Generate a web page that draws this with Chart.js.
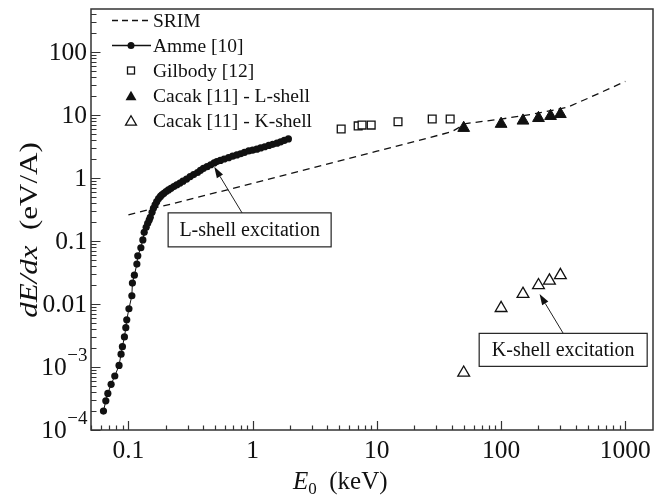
<!DOCTYPE html>
<html><head><meta charset="utf-8">
<script src="https://cdn.jsdelivr.net/npm/chart.js@4.4.1/dist/chart.umd.min.js"></script>
<style>html,body{margin:0;padding:0;background:#fff;}canvas{display:block;}</style>
</head><body>
<canvas id="c" width="665" height="499"></canvas>
<script>
// ---- data ----
const srimE = [0.1, 1, 10, 40, 52, 100, 180, 340, 520, 750, 1000];
const srimS = [0.26, 0.82, 2.66, 5.4, 7.3, 8.6, 10.3, 13.2, 19, 26.4, 34];

const ammeE = [0.063,0.0658,0.0683,0.0726,0.0777,0.0841,0.0873,0.0895,0.0929,0.0953,0.097,0.101,0.1066,0.1077,0.1117,0.117,0.119,0.126,0.1307,0.134,0.139,0.143,0.147,0.150,0.155,0.159,0.164,0.169,0.175,0.181,0.186,0.193,0.201,0.210,0.220,0.232,0.245,0.26,0.275,0.294,0.314,0.335,0.36,0.38,0.402,0.43,0.46,0.49,0.515,0.55,0.59,0.64,0.69,0.746,0.80,0.86,0.93,1.0,1.08,1.16,1.25,1.35,1.45,1.57,1.68,1.8,1.94];
const ammeS = [2.0e-4,2.9e-4,3.8e-4,5.3e-4,7.2e-4,1.06e-3,1.6e-3,2.1e-3,3.0e-3,4.2e-3,5.6e-3,8.4e-3,0.0135,0.0215,0.0286,0.043,0.058,0.078,0.104,0.137,0.165,0.191,0.215,0.238,0.285,0.33,0.375,0.42,0.47,0.51,0.54,0.57,0.61,0.645,0.685,0.73,0.775,0.83,0.89,0.96,1.05,1.13,1.22,1.32,1.42,1.51,1.62,1.73,1.82,1.90,2.0,2.1,2.22,2.32,2.42,2.55,2.68,2.77,2.86,3.0,3.13,3.28,3.42,3.56,3.75,3.95,4.16];

const gilbodyE = [5.16, 7.07, 7.6, 9.0, 14.8, 27.9, 38.9];
const gilbodyS = [6.0, 6.7, 6.9, 6.9, 7.8, 8.6, 8.6];

const cacakLE = [50, 100, 150, 200, 250, 300];
const cacakLS = [6.2, 7.2, 8.1, 8.9, 9.6, 10.3];

const cacakKE = [50, 100, 150, 200, 245, 300];
const cacakKS = [8.1e-4, 8.6e-3, 0.0144, 0.0198, 0.0234, 0.0286];

const xTickVals = [0.1, 1, 10, 100, 1000];
const xTickLabels = ['0.1', '1', '10', '100', '1000'];
const yTickVals = [1e-4, 1e-3, 0.01, 0.1, 1, 10, 100];
const yTickLabels = [['10','−4'], ['10','−3'], ['0.01'], ['0.1'], ['1'], ['10'], ['100']];

const legendLabels = ['SRIM', 'Amme [10]', 'Gilbody [12]', 'Cacak [11] - L-shell', 'Cacak [11] - K-shell'];
const annL = {text: 'L-shell excitation', box: [0.946, 0.15], from: [0.823, 0.278], to: [0.491, 1.5]};
const annK = {text: 'K-shell excitation', box: [316, 1.87e-3], from: [316, 3.43e-3], to: [204, 0.0144]};

const pts = (xs, ys) => xs.map((v, i) => ({x: v, y: ys[i]}));
const serif = '"Liberation Serif","Times New Roman",serif';

function tri(ctx, cx, cy, r) {
  ctx.beginPath();
  ctx.moveTo(cx, cy - r);
  ctx.lineTo(cx + r * 0.866, cy + r * 0.5);
  ctx.lineTo(cx - r * 0.866, cy + r * 0.5);
  ctx.closePath();
}
function arrow(ctx, x1, y1, x2, y2) {
  const ang = Math.atan2(y2 - y1, x2 - x1), L = 11, W = 3.6;
  const bx = x2 - L * Math.cos(ang), by = y2 - L * Math.sin(ang);
  ctx.beginPath(); ctx.moveTo(x1, y1); ctx.lineTo(bx, by); ctx.stroke();
  ctx.beginPath();
  ctx.moveTo(x2, y2);
  ctx.lineTo(bx + W * Math.sin(ang), by - W * Math.cos(ang));
  ctx.lineTo(bx - W * Math.sin(ang), by + W * Math.cos(ang));
  ctx.closePath(); ctx.fill();
}

const deco = {
  id: 'deco',
  afterDraw(chart) {
    const {ctx, chartArea: a, scales: {x, y}} = chart;
    ctx.save();
    ctx.strokeStyle = '#333'; ctx.fillStyle = '#111';
    // frame
    ctx.lineWidth = 1.5;
    ctx.strokeRect(a.left, a.top, a.right - a.left, a.bottom - a.top);
    // ticks
    ctx.lineWidth = 1.2;
    ctx.beginPath();
    for (let d = -2; d <= 3; d++) for (let m = 1; m <= 9; m++) {
      const v = m * Math.pow(10, d);
      if (v < x.min || v > x.max) continue;
      const px = Math.round(x.getPixelForValue(v)) + 0.5;
      ctx.moveTo(px, a.bottom); ctx.lineTo(px, a.bottom - (m === 1 ? 9 : 4.5));
    }
    for (let d = -4; d <= 2; d++) for (let m = 1; m <= 9; m++) {
      const v = m * Math.pow(10, d);
      if (v < y.min || v > y.max) continue;
      const py = Math.round(y.getPixelForValue(v)) + 0.5;
      ctx.moveTo(a.left, py); ctx.lineTo(a.left + (m === 1 ? 9.5 : 5.5), py);
    }
    ctx.stroke();
    // x tick labels
    ctx.font = '25.5px ' + serif; ctx.textAlign = 'center'; ctx.textBaseline = 'alphabetic';
    xTickVals.forEach((v, i) => ctx.fillText(xTickLabels[i], x.getPixelForValue(v), a.bottom + 28));
    // y tick labels
    const rx = a.left - 4;
    yTickVals.forEach((v, i) => {
      const py = y.getPixelForValue(v), lab = yTickLabels[i];
      ctx.textAlign = 'left'; ctx.textBaseline = 'middle';
      if (lab.length === 2) {
        ctx.font = '19px ' + serif; const ws = ctx.measureText(lab[1]).width;
        ctx.font = '25.5px ' + serif; const wb = ctx.measureText(lab[0]).width;
        const x0 = rx - ws - wb;
        ctx.fillText(lab[0], x0, py + 1);
        ctx.font = '19px ' + serif; ctx.fillText(lab[1], x0 + wb + 0.5, py - 11);
      } else {
        ctx.font = '25.5px ' + serif; ctx.textAlign = 'right';
        ctx.fillText(lab[0], rx, py + 1);
      }
    });
    // x title
    ctx.textAlign = 'left'; ctx.textBaseline = 'alphabetic';
    let tx = 293; const tb = 489;
    ctx.font = 'italic 25px ' + serif; ctx.fillText('E', tx, tb); tx += ctx.measureText('E').width;
    ctx.font = '17px ' + serif; ctx.fillText('0', tx, tb + 5); tx += ctx.measureText('0').width;
    ctx.font = '25px ' + serif; ctx.fillText('  (keV)', tx, tb);
    // y title
    ctx.save();
    ctx.translate(37, 230); ctx.rotate(-Math.PI / 2); ctx.scale(1, 0.78);
    const parts = [['italic 31px ', 'dE/dx'], ['31px ', '  (eV/A)']];
    let tw = 0; parts.forEach(p => { ctx.font = p[0] + serif; tw += ctx.measureText(p[1]).width; });
    let sx = -tw / 2;
    parts.forEach(p => { ctx.font = p[0] + serif; ctx.fillText(p[1], sx, 0); sx += ctx.measureText(p[1]).width; });
    ctx.restore();
    // legend
    const lx = a.left + 40, tx0 = a.left + 62, ly0 = a.top + 11.5, dy = 25;
    ctx.font = '19.5px ' + serif; ctx.textBaseline = 'middle'; ctx.textAlign = 'left';
    legendLabels.forEach((t, i) => ctx.fillText(t, tx0, ly0 + i * dy + 1));
    ctx.strokeStyle = '#111'; ctx.lineWidth = 1.3;
    ctx.setLineDash([6, 4]);
    ctx.beginPath(); ctx.moveTo(a.left + 21, ly0); ctx.lineTo(a.left + 60, ly0); ctx.stroke();
    ctx.setLineDash([]);
    ctx.beginPath(); ctx.moveTo(a.left + 21, ly0 + dy); ctx.lineTo(a.left + 60, ly0 + dy); ctx.stroke();
    ctx.beginPath(); ctx.arc(lx, ly0 + dy, 3.5, 0, Math.PI * 2); ctx.fill();
    ctx.strokeRect(lx - 3.5, ly0 + 2 * dy - 3.5, 7, 7);
    tri(ctx, lx, ly0 + 3 * dy + 1.5, 6.3); ctx.fill();
    tri(ctx, lx, ly0 + 4 * dy + 1.5, 6.3); ctx.stroke();
    // annotations
    [[annL, 163, 34], [annK, 168, 33]].forEach(([an, w, h]) => {
      const cx = x.getPixelForValue(an.box[0]), cy = y.getPixelForValue(an.box[1]);
      ctx.fillStyle = '#fff'; ctx.fillRect(cx - w / 2, cy - h / 2, w, h);
      ctx.strokeStyle = '#222'; ctx.lineWidth = 1.2; ctx.strokeRect(cx - w / 2, cy - h / 2, w, h);
      ctx.fillStyle = '#111'; ctx.font = '20px ' + serif; ctx.textAlign = 'center'; ctx.textBaseline = 'middle';
      ctx.fillText(an.text, cx, cy + 1);
      ctx.lineWidth = 1;
      arrow(ctx, x.getPixelForValue(an.from[0]), y.getPixelForValue(an.from[1]),
                 x.getPixelForValue(an.to[0]), y.getPixelForValue(an.to[1]));
    });
    ctx.restore();
  }
};

new Chart(document.getElementById('c').getContext('2d'), {
  type: 'scatter',
  data: {
    datasets: [
      {label: 'SRIM', data: pts(srimE, srimS), showLine: true, borderColor: '#111', borderWidth: 1.3,
       borderDash: [7, 5], pointRadius: 0, fill: false},
      {label: 'Amme', data: pts(ammeE, ammeS), showLine: true, borderColor: '#111', borderWidth: 1,
       pointRadius: 3.6, pointBackgroundColor: '#111', pointBorderWidth: 0, fill: false},
      {label: 'Gilbody', data: pts(gilbodyE, gilbodyS), showLine: false, pointStyle: 'rect', pointRadius: 5.5,
       pointBackgroundColor: '#fff', pointBorderColor: '#111', pointBorderWidth: 1.3},
      {label: 'CacakL', data: pts(cacakLE, cacakLS), showLine: false, pointStyle: 'triangle', pointRadius: 6.8,
       pointBackgroundColor: '#111', pointBorderColor: '#111', pointBorderWidth: 1},
      {label: 'CacakK', data: pts(cacakKE, cacakKS), showLine: false, pointStyle: 'triangle', pointRadius: 6.8,
       pointBackgroundColor: '#fff', pointBorderColor: '#111', pointBorderWidth: 1.3}
    ]
  },
  options: {
    responsive: false, animation: false, events: [],
    layout: {padding: {left: 91, right: 12, top: 9, bottom: 69}},
    plugins: {legend: {display: false}, tooltip: {enabled: false}},
    scales: {
      x: {type: 'logarithmic', min: 0.05, max: 1670,
          ticks: {display: false}, grid: {display: false}, border: {display: false},
          afterFit: s => { s.height = 0; }},
      y: {type: 'logarithmic', min: 1e-4, max: 480,
          ticks: {display: false}, grid: {display: false}, border: {display: false},
          afterFit: s => { s.width = 0; }}
    }
  },
  plugins: [deco]
});
</script>
</body></html>
